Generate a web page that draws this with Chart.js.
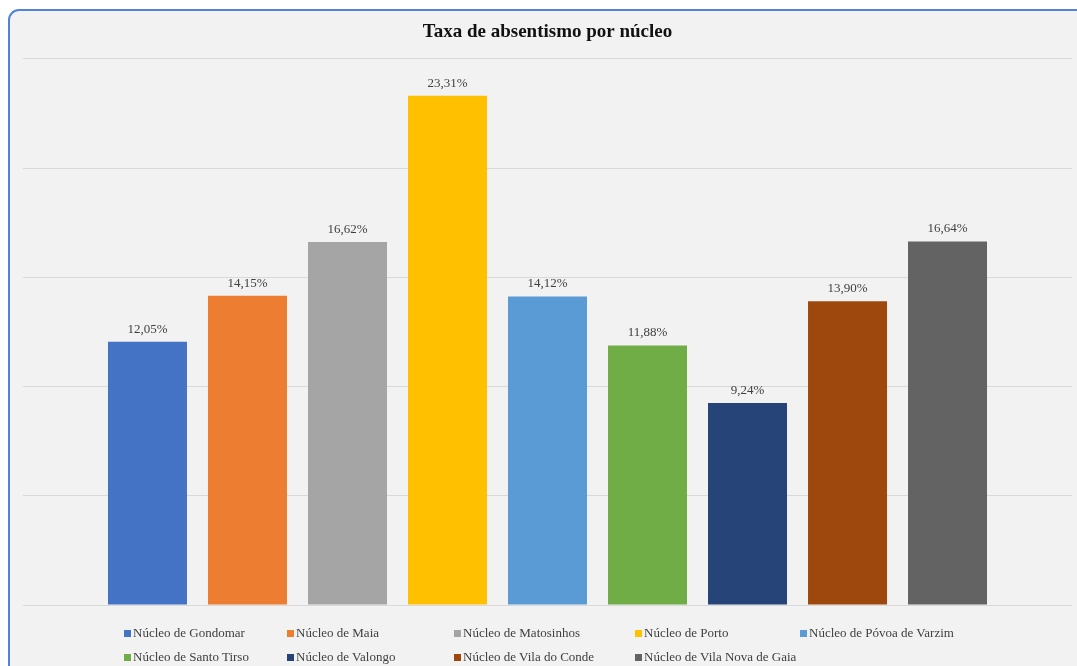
<!DOCTYPE html>
<html>
<head>
<meta charset="utf-8">
<script src="https://cdn.jsdelivr.net/npm/chart.js@4/dist/chart.umd.min.js"></script>
<style>
  html, body { margin: 0; padding: 0; background: #fff; overflow: hidden; }
  #wrap { position: relative; width: 1077px; height: 666px; overflow: hidden; }
  #moldura {
    position: absolute; left: 8px; top: 9px; width: 1100px; height: 700px;
    background: #F2F2F2; border: 2px solid #5482D6; border-radius: 11px;
  }
  #grafico { position: absolute; left: 0; top: 0; }
  #minhaLegenda {
    position: absolute; left: 124px; top: 622px; margin: 0; padding: 0;
    list-style: none; width: 900px;
    font-family: "Liberation Serif", serif; font-size: 13px; color: #404040;
  }
  #minhaLegenda li { display: inline-block; height: 24px; line-height: 21px; white-space: nowrap; }
</style>
</head>
<body>
<div id="wrap">
  <div id="moldura"></div>
  <canvas id="grafico" width="1077" height="666"></canvas>
  <ul id="minhaLegenda"></ul>
</div>
<script>
const nucleos = [
  "Núcleo de Gondomar",
  "Núcleo de Maia",
  "Núcleo de Matosinhos",
  "Núcleo de Porto",
  "Núcleo de Póvoa de Varzim",
  "Núcleo de Santo Tirso",
  "Núcleo de Valongo",
  "Núcleo de Vila do Conde",
  "Núcleo de Vila Nova de Gaia"
];
const taxas = [12.05, 14.15, 16.62, 23.31, 14.12, 11.88, 9.24, 13.90, 16.64];
const cores = ['#4472C4', '#ED7D31', '#A5A5A5', '#FFC000', '#5B9BD5', '#70AD47', '#264478', '#9E480E', '#636363'];
const larguraColunas = [163, 167, 181, 165, 200]; // colunas da legenda

// rótulos em cima das barras
const rotulos = {
  id: 'rotulos',
  afterDatasetsDraw(chart) {
    const ctx = chart.ctx;
    ctx.save();
    ctx.font = '13px "Liberation Serif", serif';
    ctx.fillStyle = '#404040';
    ctx.textAlign = 'center';
    ctx.textBaseline = 'bottom';
    chart.data.datasets.forEach((ds, i) => {
      const bar = chart.getDatasetMeta(i).data[0];
      const txt = ds.data[0].toFixed(2).replace('.', ',') + '%';
      ctx.fillText(txt, bar.x, bar.y - 6);
    });
    ctx.restore();
  }
};

const grafico = new Chart(document.getElementById('grafico').getContext('2d'), {
  type: 'bar',
  data: {
    labels: ['Taxa'],
    datasets: nucleos.map((nome, i) => ({
      label: nome,
      data: [taxas[i]],
      backgroundColor: cores[i],
      categoryPercentage: 0.858,
      barPercentage: 0.79
    }))
  },
  options: {
    responsive: false,
    animation: false,
    layout: { padding: { left: 23, right: 5, top: 0, bottom: 61 } },
    plugins: {
      legend: { display: false },
      tooltip: { enabled: false },
      title: {
        display: true,
        text: 'Taxa de absentismo por núcleo',
        color: '#111',
        font: { family: '"Liberation Serif", serif', size: 19, weight: 'bold' },
        padding: { top: 21, bottom: 15 }
      }
    },
    scales: {
      x: { display: false },
      y: {
        min: 0, max: 25,
        ticks: { display: false, stepSize: 5 },
        border: { display: false },
        grid: { color: '#D9D9D9', lineWidth: 1, drawTicks: false }
      }
    }
  },
  plugins: [rotulos]
});

const ul = document.getElementById('minhaLegenda');
nucleos.forEach((nome, i) => {
  const li = document.createElement('li');
  li.style.width = larguraColunas[i % 5] + 'px';
  li.innerHTML = `<span style="display:inline-block;width:7px;height:7px;background-color:${cores[i]};margin-right:2px;"></span>${nome}`;
  ul.appendChild(li);
});
</script>
</body>
</html>
